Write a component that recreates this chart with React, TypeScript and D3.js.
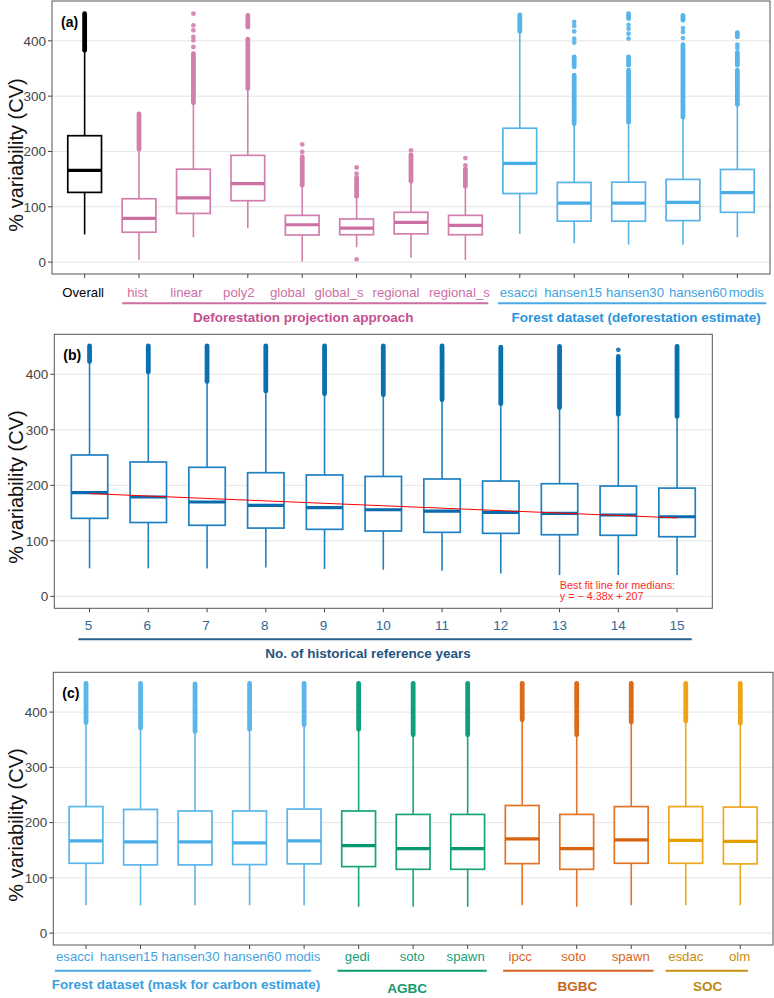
import React from "react";
import * as d3 from "d3";

// ---------------- DATA ----------------
// Panel (a)
const catsA = ["Overall", "hist", "linear", "poly2", "global", "global_s", "regional", "regional_s", "esacci", "hansen15", "hansen30", "hansen60", "modis"];
const groupOfA = [0, 1, 1, 1, 1, 1, 1, 1, 2, 2, 2, 2, 2];
const q1A = [126, 54, 88, 111, 49, 49.5, 51, 49.5, 124, 74, 74, 75, 90];
const medA = [166, 79, 116, 142, 67.5, 61.5, 72, 66.5, 178.5, 106.5, 106.5, 108, 125.5];
const q3A = [228.5, 114.5, 168, 193, 84.5, 78, 90, 84.5, 242, 144, 144.5, 149.5, 167.5];
const loA = [50, 4, 45, 61, 1, 27, 8, 4, 51, 34, 31.5, 31.5, 45];
const hiA = [383, 204, 288, 313, 139, 119, 146, 137, 417, 250, 253, 262, 284];
const runsA: number[][][] = [
  [[383, 449]],
  [[204, 268]],
  [[288, 377]],
  [[314, 403], [425, 446]],
  [[139, 190]],
  [[119, 153]],
  [[146, 194]],
  [[137, 168]],
  [[417, 447]],
  [[250, 338], [353, 371]],
  [[253, 347], [356, 371], [440, 449]],
  [[262, 393], [437, 446]],
  [[285, 347], [356, 379], [407, 415]],
];
const pointsA: number[][] = [
  [],
  [],
  [389, 401, 407, 419, 428, 449],
  [],
  [199, 213],
  [5, 160, 171],
  [202],
  [175, 188],
  [],
  [397, 404, 417, 427, 434],
  [404, 413, 422, 429],
  [405, 416, 423],
  [387, 393],
];
const groupsA = ["", "Deforestation projection approach", "Forest dataset (deforestation estimate)"];

// Panel (b)
const catsB = ["5", "6", "7", "8", "9", "10", "11", "12", "13", "14", "15"];
const q1B = [140.5, 133, 128, 123, 120.7, 117.7, 115.3, 113.5, 111, 110, 107.4];
const medB = [186.7, 179, 170, 164, 159.7, 156, 153.7, 151.3, 149.5, 146.5, 143.4];
const q3B = [254.6, 242, 232.4, 222.7, 218.6, 216, 211.4, 207.7, 202.9, 198.7, 195];
const loB = [50.4, 50.4, 50.4, 52, 49.2, 48, 46, 41.4, 38.4, 38.4, 38.4];
const hiB = [422.7, 403.6, 386.7, 370, 364.5, 362.7, 353.7, 346.5, 340, 328, 323.6];
const runsB: number[][][] = [
  [[423, 451]], [[404, 451]], [[387, 451]], [[370, 451]], [[365, 451]], [[363, 451]],
  [[354, 451]], [[347, 449]], [[340, 450]], [[328, 432]], [[324, 450]],
];
const pointsB: number[][] = [[], [], [], [], [], [], [], [], [], [444], []];
const fitSlope = -4.38;
const fitIntercept = 207;
const fitYears = [5, 15];
const groupsB = ["No. of historical reference years"];

// Panel (c)
const catsC = ["esacci", "hansen15", "hansen30", "hansen60", "modis", "gedi", "soto", "spawn", "ipcc", "soto", "spawn", "esdac", "olm"];
const groupOfC = [0, 0, 0, 0, 0, 1, 1, 1, 2, 2, 2, 3, 3];
const q1C = [126.4, 123.5, 123.5, 124, 125.3, 120.4, 115.5, 115.5, 125.8, 115.5, 126.4, 126.4, 125.3];
const medC = [166.8, 165, 165, 163.2, 166.8, 158.3, 152.9, 152.9, 170.4, 152.9, 168.6, 168, 166.1];
const q3C = [229, 223.8, 221, 221, 224.5, 221, 214.8, 214.8, 231, 214.8, 229, 229, 228.1];
const loC = [50.5, 50.5, 50.5, 50.5, 50.5, 47.6, 47.6, 47.6, 50.5, 47.6, 50.5, 50.5, 50.5];
const hiC = [381, 371, 365, 369, 377, 369, 359, 359, 386, 359, 382, 384, 380];
const runsC: number[][][] = [
  [[381, 452]], [[371, 452]], [[365, 451]], [[369, 452]], [[377, 452]], [[369, 452]],
  [[359, 452]], [[359, 452]], [[386, 452]], [[359, 452]], [[382, 452]], [[384, 452]], [[380, 452]],
];
const pointsC: number[][] = [[], [], [], [], [], [], [], [], [], [], [], [], []];
const groupsC = ["Forest dataset (mask for carbon estimate)", "AGBC", "BGBC", "SOC"];

const yTicks = [0, 100, 200, 300, 400];
const yTitle = "% variability (CV)";

// ---------------- STYLE / LAYOUT ----------------
const FONT = "'Liberation Sans', Arial, Helvetica, sans-serif";
// horizontal nudges of x tick labels (px), as laid out in the reference
const labelDxA = [-1.5, -1.5, -7, -9, -14.7, -17.6, -15, -6, -1.3, -1, 6.5, 15, 9];
const labelDxB = [-1, -1, -1, -1, -1, 0, 0, 0, 0, 0, 0];
const labelDxC = [-11.3, -11.7, -4.5, 3, -1.3, -1.3, -1, -2, -2, -3, -0.5, 0, -0.7];

type GroupStyle = {
  box: string; med: string; pt: string; tick: string; line: string; title: string;
  padL: number; padR: number; titleShift: number; titleDy: number; hasLine: boolean;
};

const stylesA: GroupStyle[] = [
  { box: "#000000", med: "#000000", pt: "#000000", tick: "#000000", line: "none", title: "#000", padL: 0, padR: 0, titleShift: 0, titleDy: 0, hasLine: false },
  { box: "#D27FAE", med: "#CC6FA3", pt: "#D27FAE", tick: "#CC6FA3", line: "#CC6FA3", title: "#C4508F", padL: 0.31, padR: 0.42, titleShift: -2, titleDy: 0, hasLine: true },
  { box: "#56B4E9", med: "#4AAEE6", pt: "#56B4E9", tick: "#3FA3E0", line: "#4AAAE6", title: "#2A93DB", padL: 0.4, padR: 0.53, titleShift: 4, titleDy: 0, hasLine: true },
];
const stylesB: GroupStyle[] = [
  { box: "#1F80C2", med: "#0A6AAB", pt: "#0A70B0", tick: "#2F6896", line: "#2A5F8C", title: "#1F5582", padL: 0.19, padR: 0.25, titleShift: -17, titleDy: 0, hasLine: true },
];
const stylesC: GroupStyle[] = [
  { box: "#5BB6EA", med: "#4AAEE6", pt: "#5BB6EA", tick: "#3FA3E0", line: "#4AAAE6", title: "#3A9FE0", padL: 0.57, padR: 0.13, titleShift: 3, titleDy: 0, hasLine: true },
  { box: "#1AA37A", med: "#079871", pt: "#10A079", tick: "#15A077", line: "#0C9A70", title: "#0F9A6E", padL: 0.39, padR: 0.35, titleShift: -5, titleDy: 4, hasLine: true },
  { box: "#E27428", med: "#D8630E", pt: "#DC6A18", tick: "#D9651A", line: "#D46420", title: "#C9641C", padL: 0.35, padR: 0.41, titleShift: -1, titleDy: 2, hasLine: true },
  { box: "#EDA820", med: "#E69F00", pt: "#EBA515", tick: "#C68E0D", line: "#C4920F", title: "#BA8A14", padL: 0.37, padR: 0.14, titleShift: 1, titleDy: 2, hasLine: true },
];

type PanelProps = {
  tag: string;
  left: number; right: number; top: number; bottom: number;
  cats: string[]; groupOf: number[]; groups: string[]; styles: GroupStyle[];
  q1: number[]; med: number[]; q3: number[]; lo: number[]; hi: number[];
  runs: number[][][]; points: number[][];
  tickY: number; lineY: number; titleY: number; yTitleY: number; tickFont: number; labelDx: number[];
  fit?: boolean;
};

function Panel(p: PanelProps) {
  const x = d3.scalePoint<string>().domain(p.cats.map((_, i) => String(i))).range([p.left, p.right]).padding(0.6);
  const y = d3.scaleLinear().domain([-21.5, 472]).range([p.bottom, p.top]);
  const step = x.step();
  const hw = step * 0.31;
  const R = 2.4;
  const xi = (i: number) => x(String(i)) as number;

  const groupIdx = p.groups.map((_, g) => p.groupOf.map((gg, i) => (gg === g ? i : -1)).filter((i) => i >= 0));

  return (
    <g>
      <rect x={p.left} y={p.top} width={p.right - p.left} height={p.bottom - p.top} fill="#fff" />
      {yTicks.map((t) => (
        <line key={"g" + t} x1={p.left} x2={p.right} y1={y(t)} y2={y(t)} stroke="#e4e4e4" strokeWidth={1} />
      ))}
      <rect x={p.left} y={p.top} width={p.right - p.left} height={p.bottom - p.top} fill="none" stroke="#555" strokeWidth={1} />
      {yTicks.map((t) => (
        <g key={"t" + t}>
          <line x1={p.left - 4} x2={p.left} y1={y(t)} y2={y(t)} stroke="#444" strokeWidth={1} />
          <text x={p.left - 6} y={y(t)} dy="0.35em" textAnchor="end" fontSize={13.5} fill="#444" fontFamily={FONT}>{t}</text>
        </g>
      ))}
      <text transform={`translate(16,${p.yTitleY}) rotate(-90)`} textAnchor="middle" dy="0.35em" fontSize={20} fill="#111" fontFamily={FONT}>{yTitle}</text>
      <text x={p.left + 9} y={p.top + 26} fontSize={14} fontWeight="bold" fill="#000" fontFamily={FONT}>{p.tag}</text>

      {p.cats.map((c, i) => {
        const st = p.styles[p.groupOf[i]];
        const cx = xi(i);
        return (
          <g key={"b" + i}>
            <line x1={cx} x2={cx} y1={y(p.lo[i])} y2={y(p.q1[i])} stroke={st.box} strokeWidth={1.6} />
            <line x1={cx} x2={cx} y1={y(p.q3[i])} y2={y(p.hi[i])} stroke={st.box} strokeWidth={1.6} />
            {p.runs[i].map((r, k) => (
              <line key={"r" + k} x1={cx} x2={cx} y1={y(r[0])} y2={y(r[1])} stroke={st.pt} strokeWidth={2 * R} strokeLinecap="round" />
            ))}
            {p.points[i].map((v, k) => (
              <circle key={"p" + k} cx={cx} cy={y(v)} r={R} fill={st.pt} fillOpacity={0.9} />
            ))}
            <rect x={cx - hw} y={y(p.q3[i])} width={2 * hw} height={y(p.q1[i]) - y(p.q3[i])} fill="#fff" stroke={st.box} strokeWidth={1.7} />
            <line x1={cx - hw} x2={cx + hw} y1={y(p.med[i])} y2={y(p.med[i])} stroke={st.med} strokeWidth={3.2} />
          </g>
        );
      })}

      {p.fit && (
        <g>
          <line
            x1={xi(p.cats.indexOf(String(fitYears[0])))}
            x2={xi(p.cats.indexOf(String(fitYears[1])))}
            y1={y(fitSlope * fitYears[0] + fitIntercept)}
            y2={y(fitSlope * fitYears[1] + fitIntercept)}
            stroke="#FF0000" strokeWidth={1}
          />
          <text x={xi(8) + 0.3} y={p.bottom - 19.5} fontSize={10.8} fill="#FF2A2A" fontFamily={FONT}>Best fit line for medians:</text>
          <text x={xi(8) + 0.3} y={p.bottom - 8.5} fontSize={10.8} fill="#FF2A2A" fontFamily={FONT}>{`y = \u2212 ${Math.abs(fitSlope)}x + ${fitIntercept}`}</text>
        </g>
      )}

      {p.cats.map((c, i) => {
        const st = p.styles[p.groupOf[i]];
        return (
          <g key={"x" + i}>
            <line x1={xi(i)} x2={xi(i)} y1={p.bottom} y2={p.bottom + 4} stroke="#444" strokeWidth={1} />
            <text x={xi(i) + p.labelDx[i]} y={p.tickY} textAnchor="middle" fontSize={p.tickFont} fill={st.tick} fontFamily={FONT}>{c}</text>
          </g>
        );
      })}

      {p.groups.map((g, gi) => {
        const st = p.styles[gi];
        if (!st.hasLine || groupIdx[gi].length === 0) return null;
        const first = groupIdx[gi][0];
        const last = groupIdx[gi][groupIdx[gi].length - 1];
        const x0 = xi(first) - st.padL * step;
        const x1 = xi(last) + st.padR * step;
        return (
          <g key={"gr" + gi}>
            <line x1={x0} x2={x1} y1={p.lineY} y2={p.lineY} stroke={st.line} strokeWidth={2} />
            <text x={(x0 + x1) / 2 + st.titleShift} y={p.titleY + st.titleDy} textAnchor="middle" fontSize={13.5} fontWeight="bold" fill={st.title} fontFamily={FONT}>{g}</text>
          </g>
        );
      })}
    </g>
  );
}

export default function App() {
  return (
    <svg width={774} height={998} style={{ position: "absolute", left: 0, top: 0, background: "#fff" }} xmlns="http://www.w3.org/2000/svg">
      <rect x={0} y={0} width={774} height={998} fill="#fff" />
      <Panel
        tag="(a)" left={52} right={770} top={1} bottom={274}
        cats={catsA} groupOf={groupOfA} groups={groupsA} styles={stylesA}
        q1={q1A} med={medA} q3={q3A} lo={loA} hi={hiA} runs={runsA} points={pointsA}
        tickY={296.5} lineY={303.3} titleY={321.5} yTitleY={155} tickFont={13.2} labelDx={labelDxA}
      />
      <Panel
        tag="(b)" left={54.3} right={712.3} top={334.3} bottom={608.3}
        cats={catsB} groupOf={catsB.map(() => 0)} groups={groupsB} styles={stylesB}
        q1={q1B} med={medB} q3={q3B} lo={loB} hi={hiB} runs={runsB} points={pointsB}
        tickY={630} lineY={639.3} titleY={657.5} yTitleY={487} tickFont={13.5} labelDx={labelDxB} fit
      />
      <Panel
        tag="(c)" left={53.3} right={773} top={672.3} bottom={945}
        cats={catsC} groupOf={groupOfC} groups={groupsC} styles={stylesC}
        q1={q1C} med={medC} q3={q3C} lo={loC} hi={hiC} runs={runsC} points={pointsC}
        tickY={961} lineY={970.7} titleY={989} yTitleY={825} tickFont={13.2} labelDx={labelDxC}
      />
    </svg>
  );
}
